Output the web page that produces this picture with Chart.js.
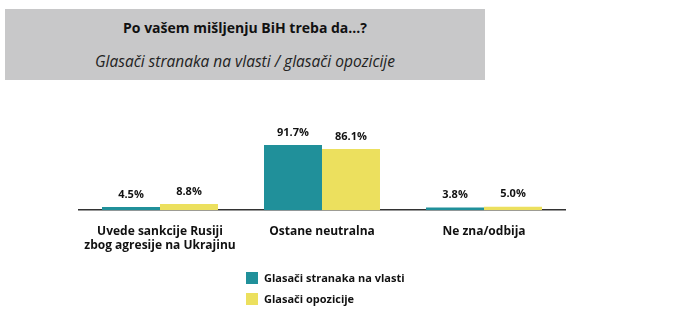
<!DOCTYPE html>
<html>
<head>
<meta charset="utf-8">
<script src="https://cdn.jsdelivr.net/npm/chart.js@4/dist/chart.umd.min.js"></script>
<style>
  html, body { margin: 0; padding: 0; background: #fff; }
  body { width: 686px; height: 329px; position: relative; overflow: hidden; font-family: "Open Sans", "Noto Sans", sans-serif; }
  #header { position: absolute; left: 5px; top: 9px; width: 480px; height: 71px; background: #c8c8c9; text-align: center; color: #111; }
  #header .title { position: absolute; left: 0; right: 0; top: 9px; font-size: 14px; font-weight: 700; }
  #header .sub { position: absolute; left: 0; right: 0; top: 41px; font-size: 15.5px; font-style: italic; font-weight: 400; color: #222; }
  #chartWrap { position: absolute; left: 0; top: 0; width: 686px; height: 329px; }
  .legend { position: absolute; left: 246px; font-size: 11px; font-weight: 700; color: #111; }
  .legend span { display: inline-block; width: 12px; height: 12px; vertical-align: -2px; margin-right: 6px; }
</style>
</head>
<body>
<div id="chartWrap"><canvas id="chart" width="686" height="329"></canvas></div>
<div id="header">
  <div class="title">Po vašem mišljenju BiH treba da...?</div>
  <div class="sub">Glasači stranaka na vlasti / glasači opozicije</div>
</div>
<div id="legendBox"></div>
<script>
const CATEGORIES = [['Uvede sankcije Rusiji', 'zbog agresije na Ukrajinu'], 'Ostane neutralna', 'Ne zna/odbija'];
const SERIES_NAMES = ['Glasači stranaka na vlasti', 'Glasači opozicije'];
const RULING = [4.5, 91.7, 3.8];
const OPPOSITION = [8.8, 86.1, 5.0];
const COLORS = ['#20909a', '#ece05e'];

// value labels above each bar
const valueLabels = {
    id: 'valueLabels',
    afterDatasetsDraw(chart) {
        const ctx = chart.ctx;
        ctx.save();
        ctx.font = 'bold 11px "Open Sans", "Noto Sans", sans-serif';
        ctx.fillStyle = '#111';
        ctx.textAlign = 'center';
        ctx.textBaseline = 'bottom';
        chart.data.datasets.forEach((ds, i) => {
            chart.getDatasetMeta(i).data.forEach((bar, j) => {
                ctx.fillText(ds.data[j].toFixed(1) + '%', bar.x, bar.y - 7);
            });
        });
        ctx.restore();
    }
};

new Chart(document.getElementById('chart'), {
    type: 'bar',
    data: {
        labels: CATEGORIES,
        datasets: [
            { label: SERIES_NAMES[0], data: RULING, backgroundColor: COLORS[0] },
            { label: SERIES_NAMES[1], data: OPPOSITION, backgroundColor: COLORS[1] },
        ]
    },
    options: {
        responsive: false,
        animation: false,
        layout: { padding: { left: 79, right: 121, top: 139, bottom: 70 } },
        datasets: { bar: { categoryPercentage: 0.716, barPercentage: 1.0 } },
        plugins: { legend: { display: false }, tooltip: { enabled: false } },
        scales: {
            x: {
                grid: { display: false },
                border: { display: true, color: '#333', width: 1.5 },
                ticks: { color: '#111', padding: 6, font: { size: 12, weight: 'bold', family: '"Open Sans", "Noto Sans", sans-serif' }, maxRotation: 0 }
            },
            y: { display: false, min: 0, max: 100 }
        }
    },
    plugins: [valueLabels]
});

document.getElementById('legendBox').innerHTML = SERIES_NAMES.map((name, i) =>
    `<div class="legend" style="top:${270 + i * 21}px;"><span style="background:${COLORS[i]}"></span>${name}</div>`
).join('');
</script>
</body>
</html>
